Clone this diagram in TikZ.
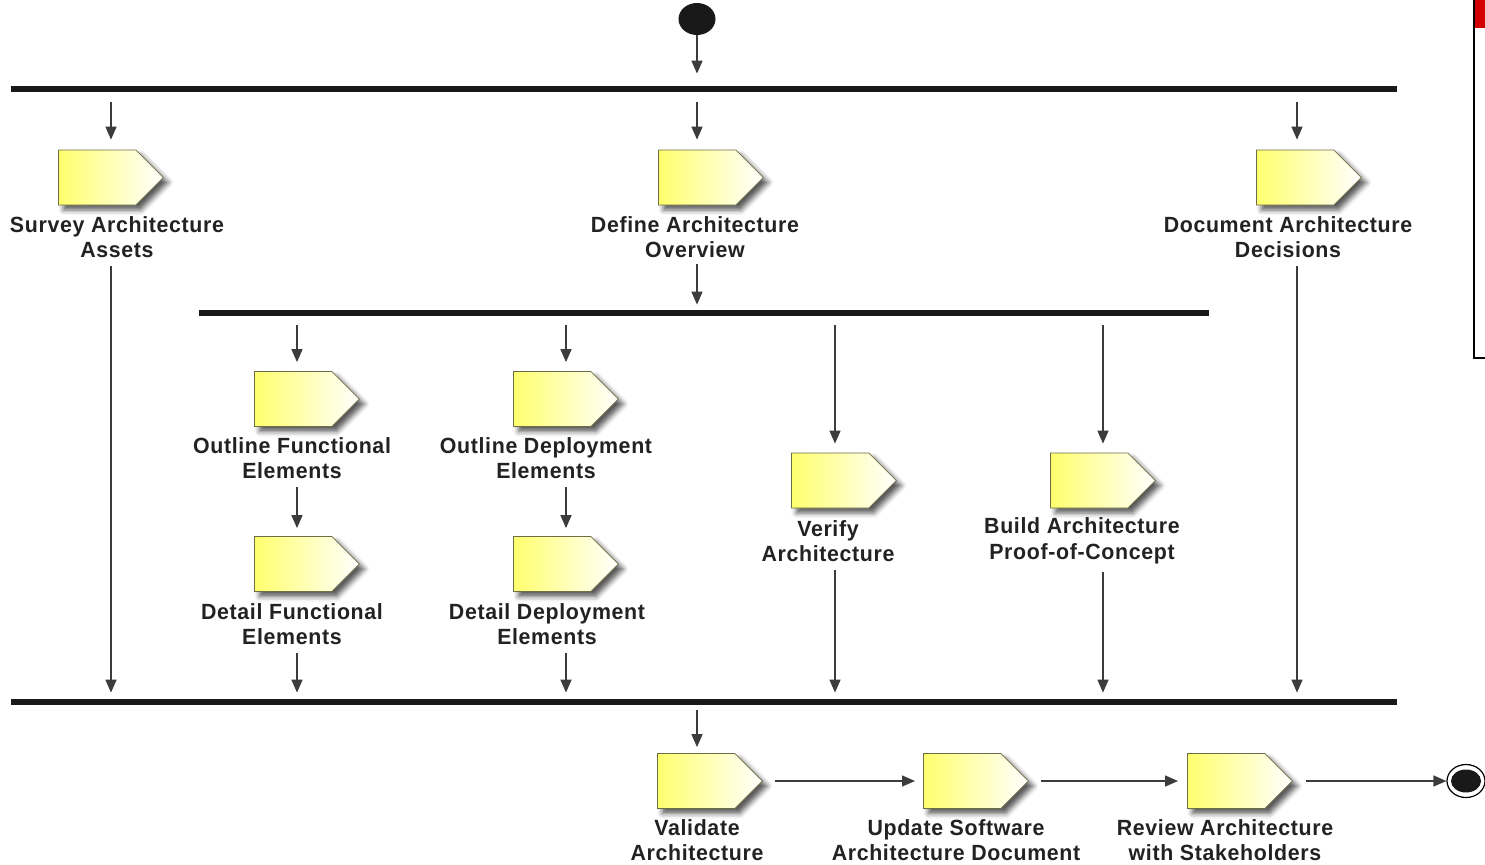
\documentclass[tikz,border=0pt]{standalone}
\usepackage{fontspec}
\newfontfamily\lblfont[FakeStretch=0.97,LetterSpace=3]{Liberation Sans}
\usetikzlibrary{arrows.meta,shapes.symbols,shapes.geometric,shadows.blur}
\definecolor{yel}{RGB}{255,255,110}
\definecolor{yelmid}{RGB}{255,255,175}
\definecolor{edge}{RGB}{110,110,70}
\definecolor{ink}{RGB}{34,34,34}
\definecolor{arrcol}{RGB}{60,60,60}
\definecolor{redbox}{RGB}{210,0,0}
\tikzset{
  act/.style={signal, signal to=east, signal pointer angle=90,
    minimum width=52.5pt, minimum height=27.5pt, inner sep=0pt, anchor=west,
    draw=edge, line width=0.4pt, left color=yel, middle color=yelmid, right color=white,
    blur shadow={shadow xshift=2.5pt, shadow yshift=-2.5pt, shadow blur radius=2.5pt, shadow opacity=65}},
  lbl/.style={align=center, inner sep=1pt, text=ink,
    font=\lblfont\bfseries\fontsize{11pt}{12.8pt}\selectfont},
  bar/.style={fill=black!90, inner sep=0pt, minimum height=3pt},
  arr/.style={draw=arrcol, line width=0.7pt, -{Triangle[length=6.5pt,width=5.5pt]}},
  sstart/.style={ellipse, fill=black!90, inner sep=0pt, minimum width=18.5pt, minimum height=16pt},
}
\begin{document}
\begin{tikzpicture}[x=0.5pt,y=-0.5pt]
\useasboundingbox (0,0) rectangle (1485,864);
% red box at top right (cut off)
\begin{scope}
\clip (0,0) rectangle (1485,864);
\fill[redbox] (1475,-5) rectangle (1495,28);
\draw[line width=1.2pt, black] (1474,-10) -- (1474,358) -- (1500,358);
\end{scope}
% columns
\coordinate (cS) at (111,0);
\coordinate (cM) at (697,0);
\coordinate (cDoc) at (1297,0);
\coordinate (cF) at (297,0);
\coordinate (cP) at (566,0);
\coordinate (cV) at (835,0);
\coordinate (cB) at (1103,0);
% start
\node[sstart] (start) at (697,19) {};
% bars
\node[bar, minimum width=693pt] (bar1) at (704,89) {};
\node[bar, minimum width=505pt] (bar2) at (704,313) {};
\node[bar, minimum width=693pt] (bar3) at (704,702) {};
% activities
\node[act] (sS) at (58,177.5) {};
\node[act] (sD) at (658,177.5) {};
\node[act] (sDoc) at (1256,177.5) {};
\node[act] (sOF) at (254,399) {};
\node[act] (sOD) at (513,399) {};
\node[act] (sDF) at (254,564) {};
\node[act] (sDD) at (513,564) {};
\node[act] (sV) at (791,480.5) {};
\node[act] (sB) at (1050,480.5) {};
\node[act] (sVal) at (657,781) {};
\node[act] (sU) at (923,781) {};
\node[act] (sR) at (1187,781) {};
% labels
\node[lbl] (lS) at (117,237) {Survey Architecture\\Assets};
\node[lbl] (lD) at (695,237) {Define Architecture\\Overview};
\node[lbl] (lDoc) at (1288,237) {Document Architecture\\Decisions};
\node[lbl] (lOF) at (292,458) {Outline Functional\\Elements};
\node[lbl] (lOD) at (546,458) {Outline Deployment\\Elements};
\node[lbl] (lDF) at (292,624) {Detail Functional\\Elements};
\node[lbl] (lDD) at (547,624) {Detail Deployment\\Elements};
\node[lbl] (lV) at (828,541) {Verify\\Architecture};
\node[lbl] (lB) at (1082,541) {Build Architecture\\Proof-of-Concept};
\node[lbl] (lVal) at (697,840) {Validate\\Architecture};
\node[lbl] (lU) at (956,840) {Update Software\\Architecture Document};
\node[lbl] (lR) at (1225,840) {Review Architecture\\with Stakeholders};
% end
\node[ellipse, draw=black, line width=0.6pt, inner sep=0pt, minimum width=19pt, minimum height=16.5pt] (end) at (1466,781) {};
\node[ellipse, fill=black!90, inner sep=0pt, minimum width=15pt, minimum height=11.5pt] (endin) at (1466,781) {};
% connectors
\draw[arr, shorten >=6pt] (start.south) -- (cM |- bar1.north);
\foreach \c/\s in {cS/sS, cM/sD, cDoc/sDoc}
  \draw[arr, shorten <=5pt, shorten >=5pt] (\c |- bar1.south) -- (\c |- \s.north);
\draw[arr, shorten <=2pt, shorten >=2.5pt] (cM |- lD.south) -- (cM |- bar2.north);
\foreach \c/\s in {cF/sOF, cP/sOD, cV/sV, cB/sB}
  \draw[arr, shorten <=4.5pt, shorten >=4.5pt] (\c |- bar2.south) -- (\c |- \s.north);
\foreach \c/\l/\s in {cF/lOF/sDF, cP/lOD/sDD}
  \draw[arr, shorten <=3pt, shorten >=4pt] (\c |- \l.south) -- (\c |- \s.north);
\foreach \c/\l in {cS/lS, cDoc/lDoc, cF/lDF, cP/lDD, cV/lV, cB/lB}
  \draw[arr, shorten <=3pt, shorten >=3pt] (\c |- \l.south) -- (\c |- bar3.north);
\draw[arr, shorten <=2.5pt, shorten >=3pt] (cM |- bar3.south) -- (cM |- sVal.north);
\draw[arr, shorten <=6pt, shorten >=4pt] (sVal.east) -- (sU.west);
\draw[arr, shorten <=6pt, shorten >=4.5pt] (sU.east) -- (sR.west);
\draw[arr, shorten <=6.5pt] (sR.east) -- (end.west);
\end{tikzpicture}
\end{document}
